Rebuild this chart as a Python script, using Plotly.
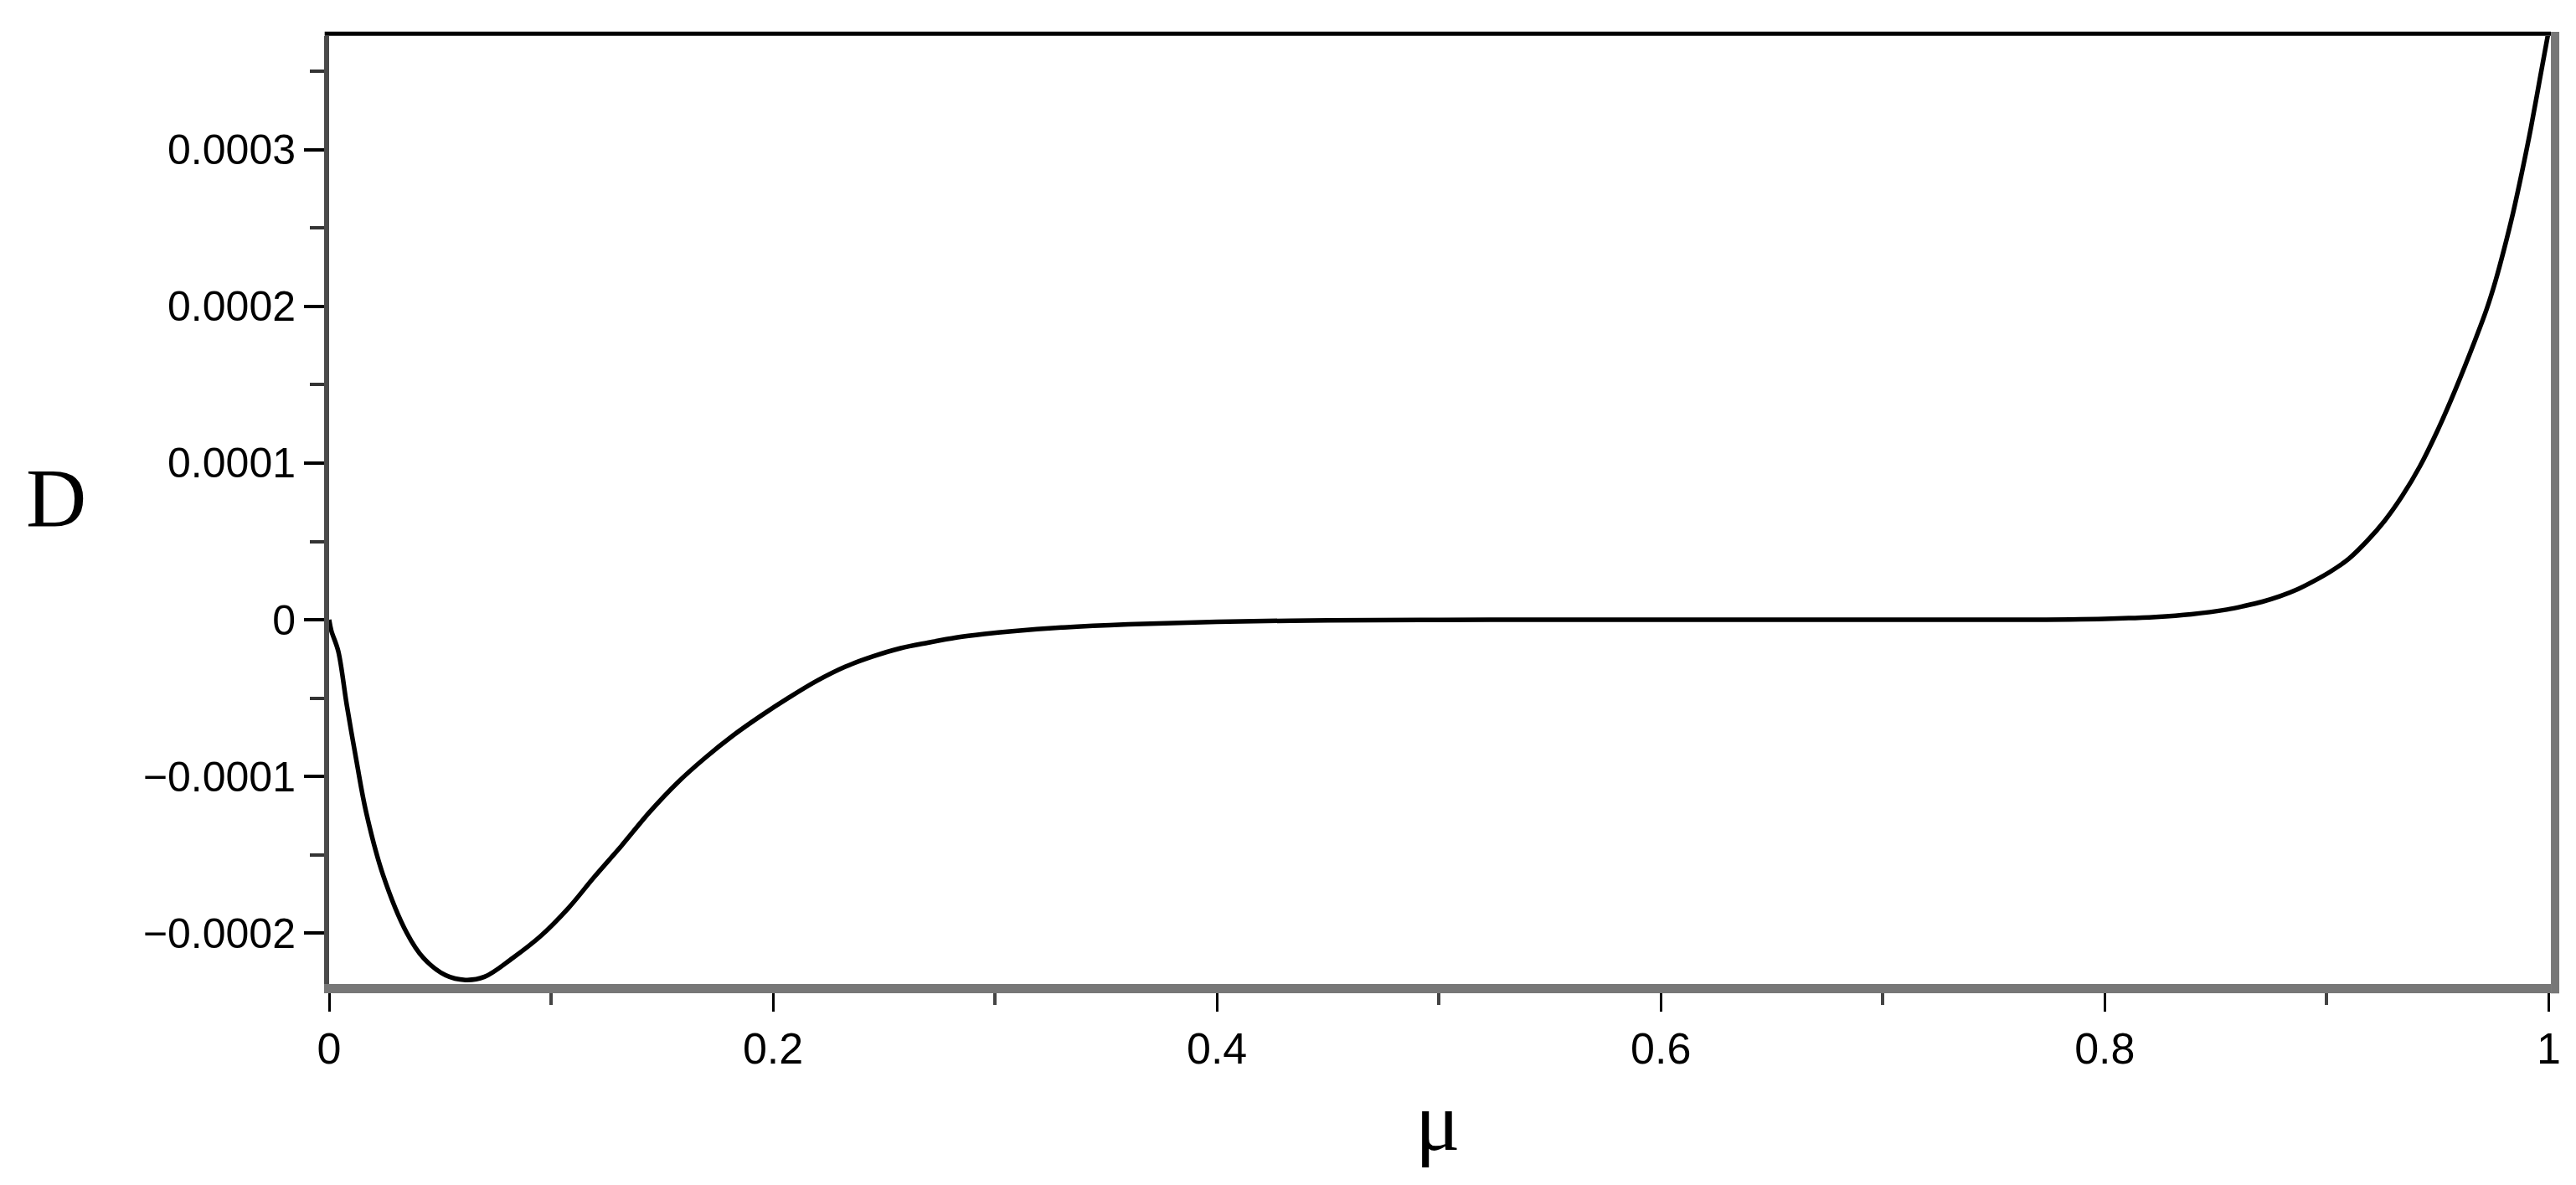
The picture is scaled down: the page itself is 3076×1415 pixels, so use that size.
import plotly.graph_objects as go

# Curve (mu, D)
mu = [0.0, 0.001, 0.0041, 0.0079, 0.0123, 0.0167, 0.0243, 0.035, 0.0425, 0.0525,
      0.0614, 0.070, 0.0827, 0.0953, 0.1079, 0.1192, 0.1318, 0.1444, 0.1569, 0.1695,
      0.1821, 0.1946, 0.2072, 0.2198, 0.2324, 0.2449, 0.2575, 0.2701, 0.2826, 0.2952,
      0.3078, 0.33, 0.36, 0.40, 0.45, 0.50, 0.55, 0.60, 0.70, 0.76,
      0.80, 0.823, 0.839, 0.855, 0.863, 0.871, 0.879, 0.887, 0.894, 0.902,
      0.910, 0.918, 0.926, 0.934, 0.942, 0.950, 0.958, 0.967, 0.972, 0.976,
      0.980, 0.984, 0.988, 0.992, 0.996, 1.000]
D = [0.0, -0.07e-4, -0.20e-4, -0.54e-4, -0.90e-4, -1.23e-4, -1.63e-4, -2.00e-4, -2.16e-4, -2.27e-4,
     -2.30e-4, -2.28e-4, -2.16e-4, -2.02e-4, -1.84e-4, -1.647e-4, -1.442e-4, -1.228e-4, -1.041e-4, -0.881e-4,
     -0.738e-4, -0.613e-4, -0.497e-4, -0.390e-4, -0.301e-4, -0.235e-4, -0.182e-4, -0.146e-4, -0.114e-4, -0.091e-4,
     -0.073e-4, -0.05e-4, -0.03e-4, -0.013e-4, -0.004e-4, -0.001e-4, 0.0, 0.0, 0.0, 0.0,
     0.006e-4, 0.018e-4, 0.035e-4, 0.065e-4, 0.088e-4, 0.115e-4, 0.15e-4, 0.195e-4, 0.245e-4, 0.31e-4,
     0.39e-4, 0.50e-4, 0.63e-4, 0.79e-4, 0.98e-4, 1.21e-4, 1.47e-4, 1.79e-4, 1.98e-4, 2.16e-4,
     2.37e-4, 2.60e-4, 2.86e-4, 3.14e-4, 3.45e-4, 3.76e-4]

x_ticks = [0, 0.2, 0.4, 0.6, 0.8, 1.0]
x_ticktext = ["0", "0.2", "0.4", "0.6", "0.8", "1"]
x_minor = [0.1, 0.3, 0.5, 0.7, 0.9]
y_ticks = [-0.0002, -0.0001, 0, 0.0001, 0.0002, 0.0003]
y_ticktext = ["\u22120.0002", "\u22120.0001", "0", "0.0001", "0.0002", "0.0003"]
y_minor = [-0.00015, -0.00005, 0.00005, 0.00015, 0.00025, 0.00035]

fig = go.Figure(
    go.Scatter(x=mu, y=D, mode="lines", line=dict(color="black", width=5.5),
               line_shape="spline", line_smoothing=1.0, showlegend=False)
)

tick_font = dict(family="Liberation Sans, Arial, sans-serif", size=50, color="black")

fig.update_layout(
    width=3076, height=1415,
    paper_bgcolor="white", plot_bgcolor="white",
    margin=dict(l=385, r=38, t=35, b=248),
    xaxis=dict(
        range=[0, 1.001], showgrid=False, zeroline=False,
        showline=True, linecolor="#777777", linewidth=11,
        tickmode="array", tickvals=x_ticks, ticktext=x_ticktext,
        ticks="outside", ticklen=22, tickwidth=3, tickcolor="black",
        tickfont=dict(tick_font, size=52),
        minor=dict(tickmode="array", tickvals=x_minor, ticks="outside",
                   ticklen=14, tickwidth=4, tickcolor="#444444"),
    ),
    yaxis=dict(
        range=[-2.326e-4, 3.727e-4], showgrid=False, zeroline=False,
        showline=True, linecolor="#4a4a4a", linewidth=6,
        tickmode="array", tickvals=y_ticks, ticktext=y_ticktext,
        ticks="outside", ticklen=24, tickwidth=4, tickcolor="black",
        tickfont=tick_font,
        minor=dict(tickmode="array", tickvals=y_minor, ticks="outside",
                   ticklen=17, tickwidth=4, tickcolor="#333333"),
    ),
    shapes=[
        # top border (black) and right border (grey)
        dict(type="line", xref="paper", yref="paper", x0=-0.002, x1=1.0, y0=1.0025, y1=1.0025,
             line=dict(color="black", width=5)),
        dict(type="line", xref="paper", yref="paper", x0=1.0019, x1=1.0019, y0=-0.01, y1=1.0045,
             line=dict(color="#777777", width=10)),
    ],
    annotations=[
        dict(text="D", xref="paper", yref="paper", x=-0.123, y=0.513,
             showarrow=False, xanchor="center", yanchor="middle",
             font=dict(family="Liberation Serif, Times New Roman, serif", size=100, color="black")),
        dict(text="\u03bc", xref="paper", yref="paper", x=0.499, y=-0.145,
             showarrow=False, xanchor="center", yanchor="middle",
             font=dict(family="Liberation Serif, Times New Roman, serif", size=100, color="black")),
    ],
)

fig.write_html("out.html")
